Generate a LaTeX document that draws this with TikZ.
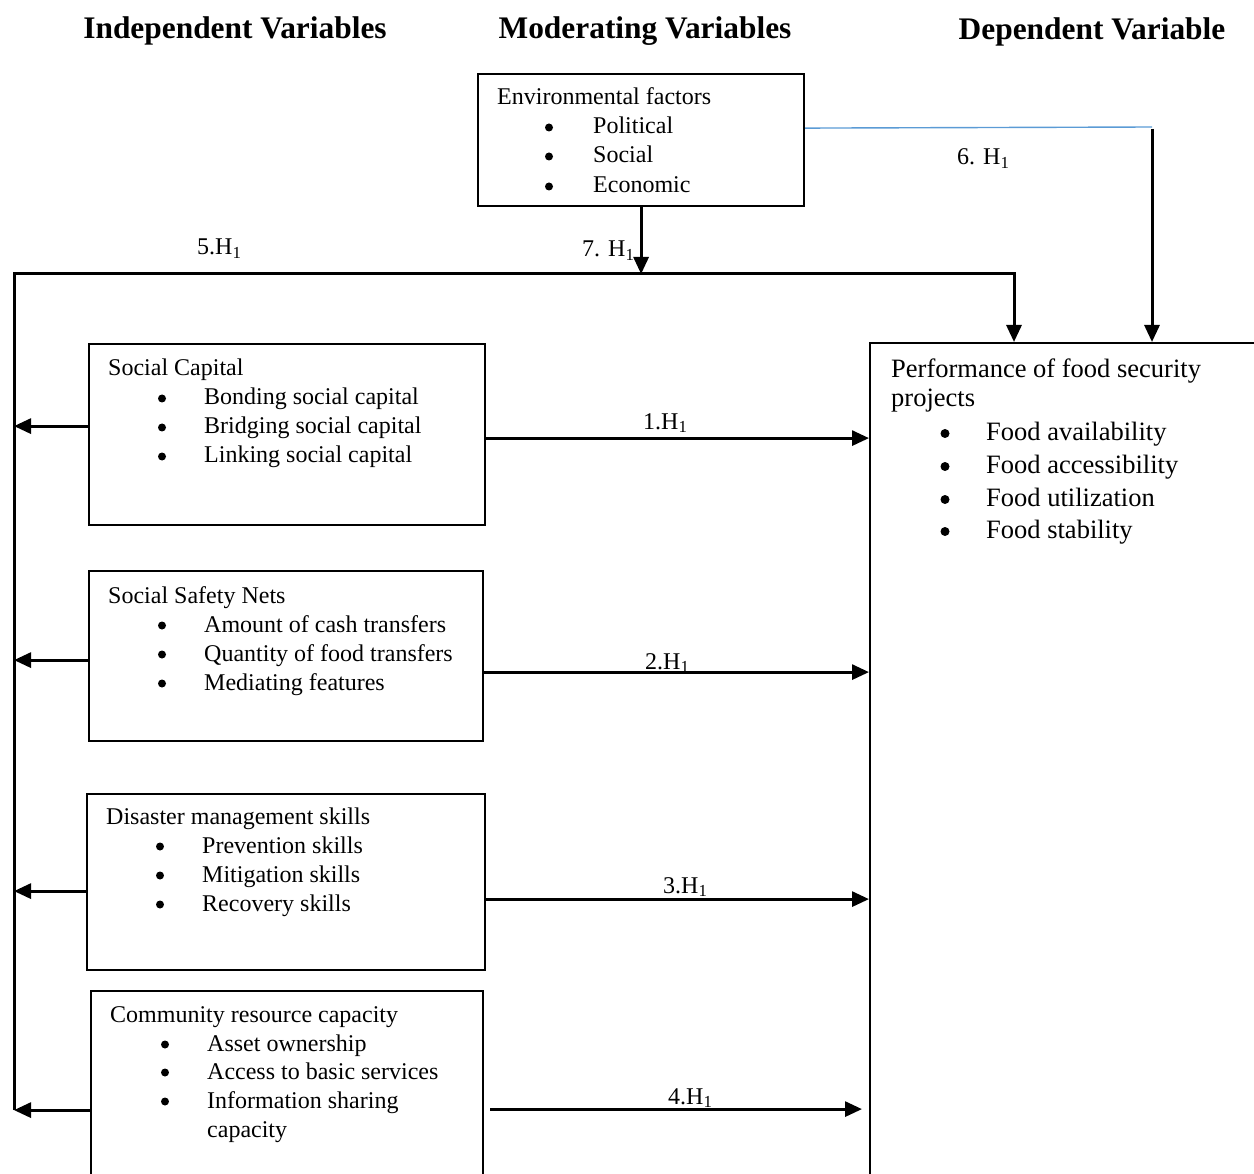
\documentclass[tikz,border=0pt]{standalone}
\usepackage{fontspec}
\setmainfont{Liberation Serif}
\usetikzlibrary{arrows.meta,calc}
\newcommand\bodyfont{\fontsize{24pt}{29pt}\selectfont}
\newcommand\bigfont{\fontsize{26.5pt}{32pt}\selectfont}
\newcommand\headfont{\fontsize{31.4pt}{36pt}\selectfont\bfseries}
\definecolor{linkblue}{RGB}{91,155,213}
\tikzset{
  box/.style={draw, line width=2.2pt, anchor=north west, inner sep=0pt},
  conn/.style={line width=3pt, -{Triangle[length=17pt,width=15pt]}},
  bluelink/.style={draw=linkblue, line width=1.4pt},
  txt/.style={anchor=base west, inner sep=0pt, font=\bodyfont},
  bigtxt/.style={anchor=base west, inner sep=0pt, font=\bigfont},
  head/.style={anchor=base, inner sep=0pt, font=\headfont},
  hyp/.style={anchor=base west, inner sep=0pt, font=\bodyfont},
  dot/.style={circle, fill=black, inner sep=0pt, minimum size=8pt},
  bigdot/.style={circle, fill=black, inner sep=0pt, minimum size=9pt},
}
% small bullet line: name, bullet x, text x, baseline y, text
\newcommand\sbl[5]{\node[dot] (#1-b) at (#2,#4-6.5) {};\node[txt] (#1) at (#3,#4) {#5};}
\newcommand\bbl[5]{\node[bigdot] (#1-b) at (#2,#4-6.5) {};\node[bigtxt] (#1) at (#3,#4) {#5};}
\begin{document}
\begin{tikzpicture}[x=1pt,y=-1pt,line join=miter]
\clip (0,0) rectangle (1254,1174);
\useasboundingbox (0,0) rectangle (1254,1174);

% headers
\node[head] (h1) at (235,39) {Independent Variables};
\node[head] (h2) at (645,39) {Moderating Variables};
\node[head] (h3) at (1092,40) {Dependent Variable};

% boxes
\node[box, minimum width=326pt, minimum height=132pt] (env) at (477,73) {};
\node[box, minimum width=396pt, minimum height=181pt] (sc) at (88,343) {};
\node[box, minimum width=394pt, minimum height=170pt] (ssn) at (88,570) {};
\node[box, minimum width=398pt, minimum height=176pt] (dm) at (86,793) {};
\node[box, minimum width=392pt, minimum height=240pt] (cr) at (90,990) {};
\node[box, minimum width=420pt, minimum height=900pt] (pf) at (869,342) {};

% environmental factors text
\node[txt] (env-t) at (497,105) {Environmental factors};
\sbl{env1}{549}{593}{134}{Political}
\sbl{env2}{549}{593}{163}{Social}
\sbl{env3}{549}{593}{193}{Economic}

% social capital text
\node[txt] (sc-t) at (108,376) {Social Capital};
\sbl{sc1}{162}{204}{405}{Bonding social capital}
\sbl{sc2}{162}{204}{434}{Bridging social capital}
\sbl{sc3}{162}{204}{463}{Linking social capital}

% social safety nets text
\node[txt] (ssn-t) at (108,603) {Social Safety Nets};
\sbl{ssn1}{162}{204}{632}{Amount of cash transfers}
\sbl{ssn2}{162}{204}{661}{Quantity of food transfers}
\sbl{ssn3}{162}{204}{690}{Mediating features}

% disaster management text
\node[txt] (dm-t) at (106,824) {Disaster management skills};
\sbl{dm1}{160}{202}{853}{Prevention skills}
\sbl{dm2}{160}{202}{882}{Mitigation skills}
\sbl{dm3}{160}{202}{911}{Recovery skills}

% community resource capacity text
\node[txt] (cr-t) at (110,1022) {Community resource capacity};
\sbl{cr1}{165}{207}{1051}{Asset ownership}
\sbl{cr2}{165}{207}{1079}{Access to basic services}
\sbl{cr3}{165}{207}{1108}{Information sharing}
\node[txt] (cr3b) at (207,1137) {capacity};

% performance text
\node[bigtxt] (pf-t) at (891,378) {Performance of food security};
\node[bigtxt] (pf-t2) at (891,407) {projects};
\bbl{pf1}{945}{986}{440}{Food availability}
\bbl{pf2}{945}{986}{473}{Food accessibility}
\bbl{pf3}{945}{986}{506}{Food utilization}
\bbl{pf4}{945}{986}{538}{Food stability}

% coordinates for free line ends
\coordinate (L) at (14,274);
\coordinate (Lb) at (14,1110);
\coordinate (T5) at (1014,274);
\coordinate (T6) at (1152,127);
\coordinate (envE) at ([yshift=12pt]env.east);
\coordinate (T6s) at ([yshift=-2pt]T6);
% connector start points
\coordinate (scW) at ([yshift=8.5pt]sc.west);
\coordinate (ssnW) at ([yshift=-4pt]ssn.west);
\coordinate (dmW) at ([yshift=-9pt]dm.west);
\coordinate (crW) at ([yshift=1pt]cr.west);
\coordinate (scE) at ([yshift=-3.5pt]sc.east);
\coordinate (ssnE) at ([yshift=-16pt]ssn.east);
\coordinate (dmE) at ([yshift=-17pt]dm.east);
\coordinate (crE) at ([xshift=6pt,yshift=2pt]cr.east);
\coordinate (pfW4) at ([xshift=-7pt]pf.west);

% moderating connectors
\draw[bluelink] (envE) -- (T6);
\draw[conn] (T6s) -- (T6s |- pf.north);
\draw[conn] (env.south) -- (env.south |- L);
\draw[conn] (Lb) -- (L) -- (T5) -- (T5 |- pf.north);

% left feedback arrows
\draw[conn] (scW) -- (L |- scW);
\draw[conn] (ssnW) -- (L |- ssnW);
\draw[conn] (dmW) -- (L |- dmW);
\draw[conn] (crW) -- (L |- crW);

% hypothesis arrows to the dependent variable
\draw[conn] (scE) -- (pf.west |- scE);
\draw[conn] (ssnE) -- (pf.west |- ssnE);
\draw[conn] (dmE) -- (pf.west |- dmE);
\draw[conn] (crE) -- (pfW4 |- crE);

% hypothesis labels
\node[hyp] (l5) at (197,255) {5.H\textsubscript{1}};
\node[hyp] (l7) at (582,257) {7. H\textsubscript{1}};
\node[hyp] (l6) at (957,165) {6. H\textsubscript{1}};
\node[hyp] (l1) at (643,429) {1.H\textsubscript{1}};
\node[hyp] (l2) at (645,669) {2.H\textsubscript{1}};
\node[hyp] (l3) at (663,893) {3.H\textsubscript{1}};
\node[hyp] (l4) at (668,1104) {4.H\textsubscript{1}};
\end{tikzpicture}
\end{document}
